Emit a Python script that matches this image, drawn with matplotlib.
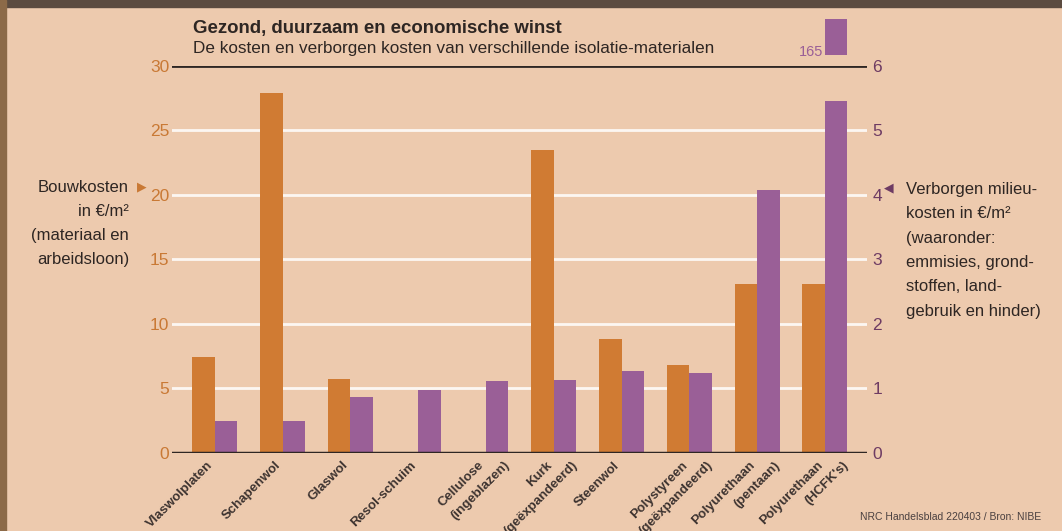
import matplotlib
matplotlib.use('Agg')
import matplotlib.pyplot as plt
from matplotlib.patches import Rectangle
from matplotlib.transforms import ScaledTranslation
import numpy as np

plt.rcParams['font.family'] = ['Liberation Sans', 'DejaVu Sans']

materials = ["Vlaswolplaten", "Schapenwol", "Glaswol", "Resol-schuim",
             "Cellulose\n(ingeblazen)", "Kurk\n(geëxpandeerd)", "Steenwol",
             "Polystyreen\n(geëxpandeerd)", "Polyurethaan\n(pentaan)",
             "Polyurethaan\n(HCFK's)"]
# bouwkosten in euro/m2 (left axis), 0 = no bar
bouwkosten = [7.4, 27.9, 5.7, 0, 0, 23.5, 8.8, 6.8, 13.1, 13.1]
# verborgen milieukosten in euro/m2 (right axis)
milieukosten = [0.49, 0.49, 0.86, 0.97, 1.12, 1.13, 1.27, 1.24, 4.08, 5.46]
hcfk_total = 165  # off the scale, shown as a box above the chart

left_ticks = [0, 5, 10, 15, 20, 25, 30]
right_ticks = [0, 1, 2, 3, 4, 5, 6]

bg = '#EDCAAE'
orange = '#D07B33'
purple = '#9A5F97'
orange_txt = '#C97935'
purple_txt = '#6E3B63'
dark = '#2E2623'

fig = plt.figure(figsize=(10.62, 5.31), dpi=100, facecolor=bg)

# photo edges
fig.patches.append(Rectangle((0, 1 - 7/531), 1, 7/531, transform=fig.transFigure,
                             color='#5b4b40', zorder=0))
fig.patches.append(Rectangle((0, 0), 6/1062, 1, transform=fig.transFigure,
                             color='#8c6a48', zorder=0))

ax = fig.add_axes([172/1062, 1 - 452.7/531, (867 - 172)/1062, (452.7 - 66)/531])
ax.set_facecolor('none')
ax2 = ax.twinx()

x = np.arange(len(materials))
w = 0.332

for v in left_ticks[1:-1]:
    ax.axhline(v, color='white', lw=2, alpha=0.85, zorder=1)
ax.axhline(30, color=dark, lw=2, zorder=1)

ax.bar(x - w/2, bouwkosten, width=w, color=orange, zorder=2)
ax2.bar(x + w/2, milieukosten, width=w, color=purple, zorder=2)
ax2.axhline(0, color=dark, lw=2.5, zorder=3)

# the 165 box for Polyurethaan (HCFK's)
ax2.bar(x[-1] + w/2, 0.56, bottom=6.17, width=w, color=purple, clip_on=False)
ax2.text(x[-1] - 0.02, 6.16, str(hcfk_total), color=purple, fontsize=10.5,
         ha='right', va='baseline')

ax.set_xlim(-0.63, 9.62)
ax.set_ylim(0, 30)
ax2.set_ylim(0, 6)

ax.set_yticks(left_ticks)
ax.set_yticklabels([str(t) for t in left_ticks], color=orange_txt, fontsize=12.5)
ax2.set_yticks(right_ticks)
ax2.set_yticklabels([str(t) for t in right_ticks], color=purple_txt, fontsize=12.5)
ax.tick_params(axis='y', length=0, pad=2)
ax2.tick_params(axis='y', length=0, pad=4)
ax.set_xticks([])

# rotated category labels, second line shifted to the right
base = ax.get_xaxis_transform()
for i, label in enumerate(materials):
    for j, line in enumerate(label.split('\n')):
        off = ScaledTranslation((-1.5 + 25 * j) / 100, -12.8 / 100, fig.dpi_scale_trans)
        ax.text(x[i], 0, line, transform=base + off, rotation=45,
                rotation_mode='anchor', ha='right', va='baseline',
                fontsize=9.5, fontweight='bold', color='#3d3330', clip_on=False)

for a in (ax, ax2):
    for s in a.spines.values():
        s.set_visible(False)

# titles
fig.text(193/1062, 1 - 28/531, "Gezond, duurzaam en economische winst",
         fontsize=13.4, fontweight='bold', color=dark, va='center')
fig.text(193/1062, 1 - 48/531,
         "De kosten en verborgen kosten van verschillende isolatie-materialen",
         fontsize=12.3, color=dark, va='center')

# axis descriptions
fig.text(129/1062, 1 - 180/531,
         "Bouwkosten\nin €/m²\n(materiaal en\narbeidsloon)",
         fontsize=12, color=dark, ha='right', va='top', linespacing=1.76)
fig.text(142/1062, 1 - 187/531, "▶", fontsize=9, color=orange_txt,
         ha='center', va='center')
fig.text(906/1062, 1 - 182/531,
         "Verborgen milieu-\nkosten in €/m²\n(waaronder:\nemmisies, grond-\nstoffen, land-\ngebruik en hinder)",
         fontsize=12, color=dark, ha='left', va='top', linespacing=1.78)
fig.text(889/1062, 1 - 188/531, "◀", fontsize=9, color=purple_txt,
         ha='center', va='center')

fig.text(1041/1062, 1 - 517/531, "NRC Handelsblad 220403 / Bron: NIBE",
         fontsize=7.5, color='#4a4040', ha='right', va='center')

fig.savefig('out.png', dpi=100, facecolor=bg)
